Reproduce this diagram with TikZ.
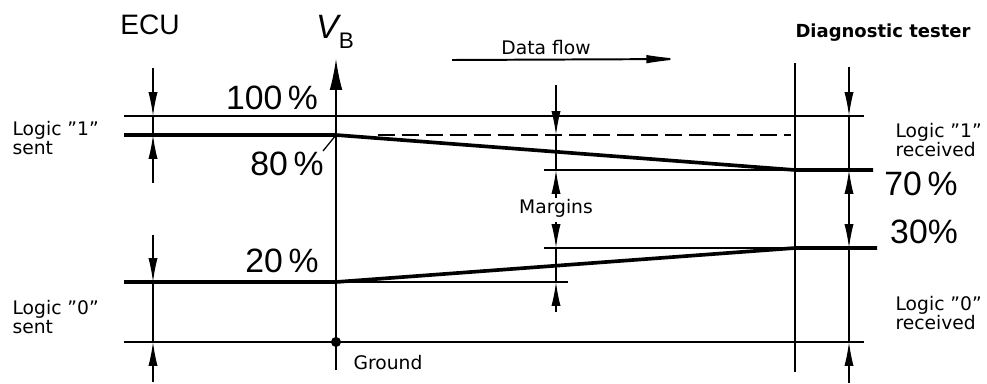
\documentclass[tikz,border=0pt]{standalone}
\usepackage{fontspec}
\setmainfont{Liberation Sans}
\newfontfamily\lblfont{DejaVu Sans}
\usetikzlibrary{arrows.meta,positioning,calc}

\begin{document}
\begin{tikzpicture}[
    x=0.025cm, y=-0.025cm, line width=0.9pt,
    >={Latex[length=17pt,width=6.5pt]},
    thickline/.style={line width=2.6pt},
    pct/.style={font=\fontsize{24}{28}\selectfont, inner sep=0pt},
    lbl/.style={font=\lblfont\fontsize{13.3}{14}\selectfont, align=left, inner sep=0pt}
]
    \useasboundingbox (0,0) rectangle (987,383);
    % levels and columns
    \coordinate (y100) at (0,116);
    \coordinate (y80) at (0,135);
    \coordinate (y70) at (0,170);
    \coordinate (y30) at (0,248);
    \coordinate (y20) at (0,282);
    \coordinate (y0) at (0,342);
    \coordinate (cL) at (124,0);
    \coordinate (cE) at (153,0);
    \coordinate (cV) at (336,0);
    \coordinate (cDash) at (378,0);
    \coordinate (cA) at (544,0);
    \coordinate (cM) at (556,0);
    \coordinate (cB) at (568,0);
    \coordinate (cD) at (795,0);
    \coordinate (cR) at (849,0);
    \coordinate (cEnd) at (864,0);

    % texts
    \node[font=\fontsize{20}{24}\selectfont] (ecu) at (150,25) {ECU};
    \node (vb) at (335,32) {\fontsize{24}{28}\selectfont\itshape V\raisebox{-7pt}{\upshape\fontsize{16}{18}\selectfont B}};
    \node[lbl] (flow) at (546,48) {Data flow};
    \node[lbl, font=\lblfont\bfseries\fontsize{12.8}{14}\selectfont] (tester) at (883,33) {Diagnostic tester};
    \node[pct] (p100) at (272,98) {100\,\%};
    \node[pct] (p80) at (287,164) {80\,\%};
    \node[pct] (p20) at (282,261) {20\,\%};
    \node[pct] (p70) at (921,184) {70\,\%};
    \node[pct] (p30) at (924,232) {30\%};
    \node[lbl, anchor=west] (sent1) at (12,138) {Logic ”1”\\sent};
    \node[lbl, anchor=west] (sent0) at (12,317) {Logic ”0”\\sent};
    \node[lbl, anchor=west] (recv1) at (895,140) {Logic ”1”\\received};
    \node[lbl, anchor=west] (recv0) at (895,313) {Logic ”0”\\received};
    \node[lbl] (margins) at (556,208) {Margins};
    \node[lbl] (ground) at (388,363) {Ground};

    % reference lines
    \draw (cL|-y100) -- (cEnd|-y100);
    \draw (cL|-y0) -- (cEnd|-y0);
    \draw (cA|-y70) -- (cD|-y70);
    \draw (cA|-y30) -- (cD|-y30);
    \draw (cV|-y20) -- (cB|-y20);
    \draw[dash pattern=on 12pt off 5pt] (cDash|-y80) -- ($(cD|-y80)+(-4,0)$);

    % signal levels
    \draw[thickline] (cL|-y80) -- (cV|-y80) -- (cD|-y70) -- ($(cD|-y70)+(78,0)$);
    \draw[thickline] (cL|-y20) -- (cV|-y20) -- (cD|-y30) -- ($(cD|-y30)+(82,0)$);

    % axes
    \draw ($(cD)+(0,63)$) -- ($(cD)+(0,372)$);
    \draw[-{Latex[length=22pt,width=9pt]}] ($(cV)+(0,370)$) -- ($(cV)+(0,59)$);
    \fill (cV|-y0) circle (3.6pt);
    \coordinate (lead) at (323,151);
    \draw (lead) -- (cV|-y80);

    % dimension arrows
    \foreach \c/\a/\b/\p/\q in {cE/68/183/y100/y80, cE/235/382/y20/y0,
                                cM/85/198/y80/y70, cM/222/312/y30/y20} {
        \draw[->] ($(\c)+(0,\a)$) -- (\c|-\p);
        \draw (\c|-\p) -- (\c|-\q);
        \draw[->] ($(\c)+(0,\b)$) -- (\c|-\q);
    }
    \draw[->] ($(cR)+(0,67)$) -- (cR|-y100);
    \draw (cR|-y100) -- (cR|-y70);
    \draw[<->] (cR|-y70) -- (cR|-y30);
    \draw (cR|-y30) -- (cR|-y0);
    \draw[->] ($(cR)+(0,383)$) -- (cR|-y0);

    % data flow
    \coordinate (fs) at (452,60);
    \coordinate (fe) at (683,59);
    \draw[-{Latex[length=26pt,width=6pt]}, line width=1.4pt] (fs) -- (fe);
\end{tikzpicture}
\end{document}
